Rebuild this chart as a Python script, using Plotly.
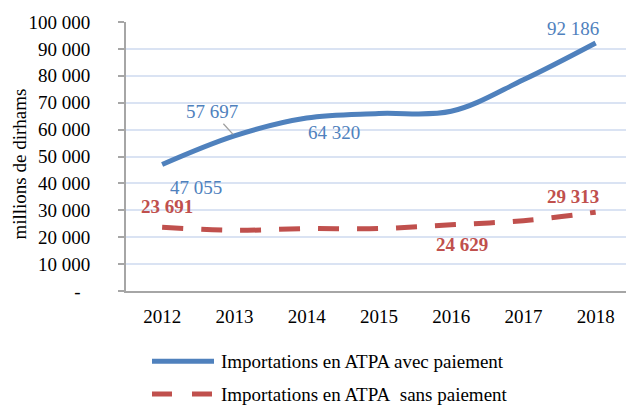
import plotly.graph_objects as go

# Importations en ATPA, millions de dirhams
years = ["2012", "2013", "2014", "2015", "2016", "2017", "2018"]
avec_paiement = [47055, 57697, 64320, 66000, 66800, 78500, 92186]
sans_paiement = [23691, 22550, 23200, 23200, 24629, 26150, 29313]

ytick_vals = [0, 10000, 20000, 30000, 40000, 50000, 60000, 70000, 80000, 90000, 100000]

BLUE = "#4f81bd"
RED = "#c0504d"
FONT = "Liberation Serif"


def fmt(v):
    return f"{v:,}".replace(",", " ")


ytick_text = ["-\u00a0\u00a0"] + [fmt(v) for v in ytick_vals[1:]]

fig = go.Figure()
fig.add_trace(go.Scatter(
    x=years, y=avec_paiement, mode="lines",
    line=dict(color=BLUE, width=5, shape="spline", smoothing=1.0),
    name="Importations en ATPA avec paiement", showlegend=False,
))
fig.add_trace(go.Scatter(
    x=years, y=sans_paiement, mode="lines",
    line=dict(color=RED, width=5, shape="spline", smoothing=1.0, dash="21px,18px"),
    name="Importations en ATPA  sans paiement", showlegend=False,
))

# value labels: (series, index, xshift, yshift, colour, bold)
label_specs = [
    (avec_paiement, 0, 34, -23, BLUE, False),
    (avec_paiement, 2, 27, -15, BLUE, False),
    (avec_paiement, 6, -23, 15, BLUE, False),
    (sans_paiement, 0, 5, 21, RED, True),
    (sans_paiement, 4, 11, -20, RED, True),
    (sans_paiement, 6, -23, 16, RED, True),
]
annotations = []
for series, i, dx, dy, col, bold in label_specs:
    txt = fmt(series[i])
    if bold:
        txt = "<b>" + txt + "</b>"
    annotations.append(dict(
        xref="x", yref="y", x=i, y=series[i], text=txt, showarrow=False,
        xshift=dx, yshift=dy, font=dict(family=FONT, size=19, color=col),
    ))
# label with leader line
annotations.append(dict(
    xref="x", yref="y", x=1, y=avec_paiement[1], text=fmt(avec_paiement[1]),
    showarrow=True, arrowhead=0, arrowwidth=1.3, arrowcolor="#a0a0a0",
    ax=-22, ay=-24, standoff=2,
    font=dict(family=FONT, size=19, color=BLUE),
))

# axis title
annotations.append(dict(
    xref="paper", yref="paper", x=-0.212, y=0.47, text="millions de dirhams",
    textangle=-90, showarrow=False, xanchor="center", yanchor="middle",
    font=dict(family=FONT, size=19, color="#000000"),
))

# legend
PX0, PW, PYB, PH = 126.0, 500.0, 291.5, 270.0


def px(xp):
    return (xp - PX0) / PW


def py(yp):
    return (PYB - yp) / PH


legend_rows = [
    ("Importations en ATPA avec paiement", BLUE, "solid", 362),
    ("Importations en ATPA\u00a0 sans paiement", RED, "20px,20px", 395),
]
shapes = []
for text, col, dash, yrow in legend_rows:
    shapes.append(dict(
        type="line", xref="paper", yref="paper",
        x0=px(152), x1=px(214), y0=py(yrow), y1=py(yrow),
        line=dict(color=col, width=5, dash=dash),
    ))
    annotations.append(dict(
        xref="paper", yref="paper", x=px(219), y=py(yrow), text=text,
        showarrow=False, xanchor="left", yanchor="middle",
        font=dict(family=FONT, size=19, color="#000000"),
    ))

fig.update_layout(
    width=626, height=405,
    margin=dict(l=126, r=0, t=22, b=113.5),
    paper_bgcolor="white", plot_bgcolor="white",
    font=dict(family=FONT, size=19, color="#000000"),
    annotations=annotations, shapes=shapes,
    showlegend=False,
)
fig.update_xaxes(
    type="category", range=[-0.5, 6.42],
    showgrid=False, showline=True, linecolor="#a6a6a6", linewidth=2,
    ticks="", ticklabelstandoff=7,
    tickfont=dict(family=FONT, size=19, color="#000000"),
)
fig.update_yaxes(
    range=[0, 100000], tickvals=ytick_vals, ticktext=ytick_text,
    showgrid=True, gridcolor="#dae3f3", gridwidth=2,
    showline=True, linecolor="#a6a6a6", linewidth=2,
    ticks="outside", ticklen=6, tickcolor="#a6a6a6", tickwidth=2,
    ticklabelstandoff=24, zeroline=False,
    tickfont=dict(family=FONT, size=19, color="#000000"),
)

fig.write_html("out.html")
